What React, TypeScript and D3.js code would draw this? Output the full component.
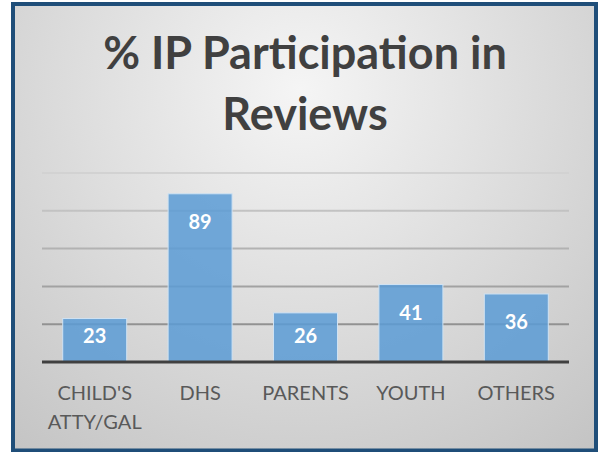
import React, { useRef, useEffect } from 'react';
import * as d3 from 'd3';

// Chart data
const categories = ["CHILD'S\nATTY/GAL", 'DHS', 'PARENTS', 'YOUTH', 'OTHERS'];
const values = [23, 89, 26, 41, 36];
const yTicks = [0, 20, 40, 60, 80, 100];
const titleLines = ['% IP Participation in', 'Reviews'];

const App: React.FC = () => {
  const svgRef = useRef<SVGSVGElement>(null);

  useEffect(() => {
    if (!svgRef.current) return;
    const svg = d3.select(svgRef.current);
    svg.selectAll('*').remove();

    const width = 598;
    const height = 452;
    const plot = { left: 42, right: 569, top: 173, bottom: 362 };

    const defs = svg.append('defs');
    const bg = defs.append('radialGradient')
      .attr('id', 'bg')
      .attr('gradientUnits', 'userSpaceOnUse')
      .attr('cx', 300).attr('cy', 90).attr('r', 480);
    bg.append('stop').attr('offset', '0%').attr('stop-color', '#f5f5f5');
    bg.append('stop').attr('offset', '100%').attr('stop-color', '#c2c2c2');

    const grid = defs.append('linearGradient')
      .attr('id', 'grid')
      .attr('gradientUnits', 'userSpaceOnUse')
      .attr('x1', 0).attr('y1', plot.top).attr('x2', 0).attr('y2', plot.bottom);
    grid.append('stop').attr('offset', '0%').attr('stop-color', '#d2d2d2');
    grid.append('stop').attr('offset', '100%').attr('stop-color', '#828282');

    // Background + border
    svg.append('rect')
      .attr('x', 13).attr('y', 4)
      .attr('width', 583).attr('height', 446.5)
      .attr('fill', 'url(#bg)')
      .attr('stroke', '#1f4e79')
      .attr('stroke-width', 4);

    // Title
    svg.append('text')
      .attr('x', 305)
      .attr('text-anchor', 'middle')
      .attr('font-family', 'Lato, sans-serif')
      .attr('font-weight', 'bold')
      .attr('font-size', 45)
      .attr('fill', '#404040')
      .selectAll('tspan')
      .data(titleLines)
      .enter().append('tspan')
      .attr('x', 305)
      .attr('y', (d, i) => 69 + i * 61)
      .text(d => d);

    const xScale = d3.scaleBand()
      .domain(categories)
      .range([plot.left, plot.right])
      .paddingInner(0.393)
      .paddingOuter(0.1965);

    const yScale = d3.scaleLinear()
      .domain([0, 100])
      .range([plot.bottom, plot.top]);

    // Gridlines
    svg.append('g')
      .selectAll('line')
      .data(yTicks.slice(1))
      .enter().append('line')
      .attr('x1', plot.left)
      .attr('x2', plot.right)
      .attr('y1', d => yScale(d))
      .attr('y2', d => yScale(d))
      .attr('stroke', 'url(#grid)')
      .attr('stroke-width', 2);

    // Bars
    svg.append('g')
      .selectAll('rect')
      .data(values)
      .enter().append('rect')
      .attr('x', (d, i) => xScale(categories[i]) || 0)
      .attr('y', d => yScale(d))
      .attr('width', xScale.bandwidth())
      .attr('height', d => plot.bottom - yScale(d))
      .attr('fill', '#5b9bd5')
      .attr('fill-opacity', 0.85)
      .attr('stroke', '#cfe2f3')
      .attr('stroke-width', 1);

    // Axis line
    svg.append('line')
      .attr('x1', plot.left)
      .attr('x2', plot.right)
      .attr('y1', plot.bottom)
      .attr('y2', plot.bottom)
      .attr('stroke', '#404040')
      .attr('stroke-width', 3);

    // Data labels
    svg.append('g')
      .selectAll('text')
      .data(values)
      .enter().append('text')
      .attr('x', (d, i) => (xScale(categories[i]) || 0) + xScale.bandwidth() / 2)
      .attr('y', d => Math.min(yScale(d) + 35, 343))
      .attr('text-anchor', 'middle')
      .attr('font-family', 'Lato, sans-serif')
      .attr('font-weight', 'bold')
      .attr('font-size', 20)
      .attr('fill', '#ffffff')
      .text(d => d);

    // Category labels
    const labels = svg.append('g')
      .selectAll('text')
      .data(categories)
      .enter().append('text')
      .attr('text-anchor', 'middle')
      .attr('font-family', 'Lato, sans-serif')
      .attr('font-size', 20)
      .attr('fill', '#595959');
    labels.selectAll('tspan')
      .data(d => d.split('\n').map(line => ({ line, cat: d })))
      .enter().append('tspan')
      .attr('x', d => (xScale(d.cat) || 0) + xScale.bandwidth() / 2)
      .attr('y', (d, i) => 400 + i * 29)
      .text(d => d.line);
  }, []);

  return (
    <svg
      ref={svgRef}
      width={598}
      height={452}
      style={{ position: 'absolute', left: 0, top: 0 }}
    />
  );
};

export default App;
